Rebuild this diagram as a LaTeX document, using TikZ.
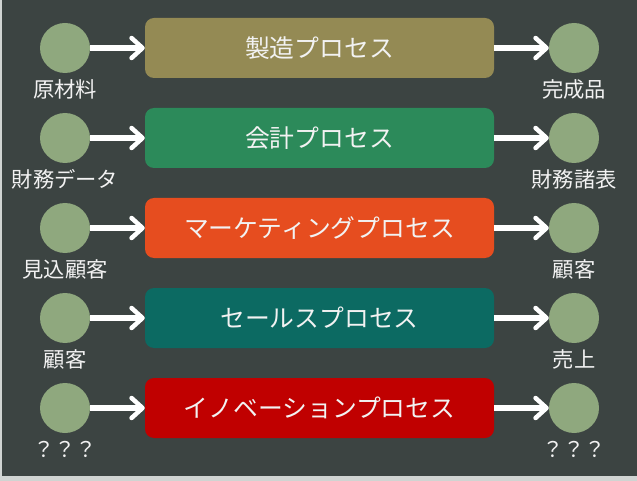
\documentclass[tikz,border=0pt]{standalone}
\usepackage{fontspec}
\setmainfont{Noto Sans CJK JP}
\usetikzlibrary{arrows.meta}
\definecolor{bg}{HTML}{3C4442}
\definecolor{edge}{HTML}{D0D4D2}
\definecolor{dot}{HTML}{8FA87E}
\definecolor{txt}{HTML}{F2F2F2}
\definecolor{c1}{HTML}{948A54}
\definecolor{c2}{HTML}{2C8A5A}
\definecolor{c3}{HTML}{E64D1F}
\definecolor{c4}{HTML}{0C6A62}
\definecolor{c5}{HTML}{C00000}
\tikzset{
  dotnode/.style={circle, fill=dot, minimum size=50pt, inner sep=0pt},
  procbox/.style={rounded corners=9pt, minimum width=349pt, minimum height=60pt, inner sep=0pt, text=txt, font=\fontsize{24.8pt}{28pt}\selectfont},
  lbl/.style={text=txt, font=\fontsize{21.3pt}{24pt}\selectfont, inner sep=0pt},
  flow/.style={draw=white, line width=6pt, -{Straight Barb[length=11pt, width=20pt, line width=4.5pt, round]}}
}
\begin{document}
\begin{tikzpicture}[x=1pt, y=-1pt]
\useasboundingbox (0,0) rectangle (637,481);
\fill[edge] (0,0) rectangle (637,481);
\fill[bg] (2,0) rectangle (637,476);
\foreach \i/\c/\t/\l/\r in {
  1/c1/製造プロセス/原材料/完成品,
  2/c2/会計プロセス/財務データ/財務諸表,
  3/c3/マーケティングプロセス/見込顧客/顧客,
  4/c4/セールスプロセス/顧客/売上,
  5/c5/イノベーションプロセス/？？？/？？？}{
  \pgfmathsetmacro{\yy}{48+90*(\i-1)}
  \node[dotnode] (L\i) at (65,\yy) {};
  \node[dotnode] (R\i) at (574,\yy) {};
  \node[procbox, fill=\c] (B\i) at (319.5,\yy) {\t};
  \node[lbl] (LL\i) at (65,\yy+41) {\l};
  \node[lbl] (RL\i) at (574,\yy+41) {\r};
  \draw[flow] (L\i.east) -- (B\i.west);
  \draw[flow] (B\i.east) -- (R\i.west);
}
\end{tikzpicture}
\end{document}
